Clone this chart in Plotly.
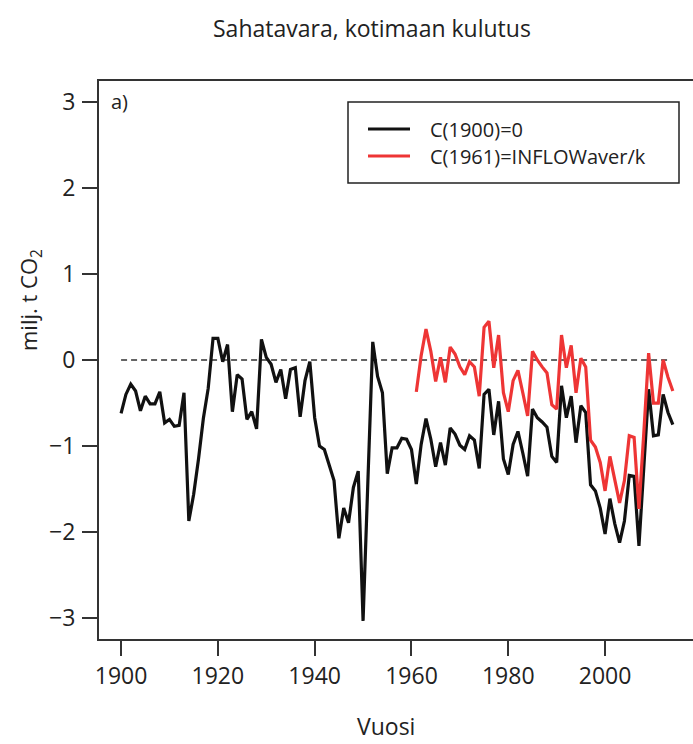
import plotly.graph_objects as go

# Sawn wood, domestic consumption: carbon balance (million t CO2)
years_black = list(range(1900, 2015))
c1900_zero = [
    -0.62, -0.40, -0.28, -0.36, -0.59, -0.42, -0.51, -0.51, -0.37, -0.73,   # 1900-1909
    -0.69, -0.77, -0.76, -0.38, -1.87, -1.56, -1.15, -0.68, -0.33, 0.25,    # 1910-1919
    0.25, -0.02, 0.18, -0.60, -0.17, -0.22, -0.69, -0.60, -0.80, 0.24,      # 1920-1929
    0.03, -0.05, -0.26, -0.11, -0.45, -0.11, -0.09, -0.66, -0.24, -0.02,    # 1930-1939
    -0.67, -1.00, -1.04, -1.21, -1.40, -2.07, -1.72, -1.89, -1.48, -1.29,   # 1940-1949
    -3.03, -1.40, 0.21, -0.19, -0.38, -1.32, -1.02, -1.02, -0.91, -0.92,    # 1950-1959
    -1.04, -1.44, -0.98, -0.68, -0.92, -1.24, -0.96, -1.22, -0.79, -0.86,   # 1960-1969
    -0.99, -1.04, -0.88, -0.93, -1.26, -0.40, -0.34, -0.87, -0.48, -1.15,   # 1970-1979
    -1.33, -0.98, -0.83, -1.08, -1.35, -0.57, -0.67, -0.72, -0.78, -1.12,   # 1980-1989
    -1.19, -0.30, -0.67, -0.42, -0.96, -0.53, -0.61, -1.45, -1.52, -1.72,   # 1990-1999
    -2.02, -1.61, -1.90, -2.12, -1.87, -1.34, -1.35, -2.16, -1.20, -0.34,   # 2000-2009
    -0.88, -0.87, -0.40, -0.61, -0.75,                                      # 2010-2014
]

years_red = list(range(1961, 2015))
c1961_inflow = [
    -0.37, 0.05, 0.36, 0.10, -0.25, 0.03, -0.26, 0.15, 0.07,                # 1961-1969
    -0.08, -0.17, -0.02, -0.08, -0.42, 0.38, 0.45, -0.09, 0.29, -0.38,      # 1970-1979
    -0.60, -0.24, -0.12, -0.38, -0.65, 0.10, 0.00, -0.08, -0.15, -0.52,     # 1980-1989
    -0.57, 0.29, -0.09, 0.17, -0.38, 0.02, -0.08, -0.93, -1.01, -1.19,      # 1990-1999
    -1.52, -1.12, -1.40, -1.66, -1.40, -0.88, -0.90, -1.73, -0.85, 0.08,    # 2000-2009
    -0.50, -0.50, 0.00, -0.20, -0.36,                                       # 2010-2014
]

ref_years = [1900, 2013]
ref_values = [0, 0]

x_ticks = [1900, 1920, 1940, 1960, 1980, 2000]
y_ticks = [-3, -2, -1, 0, 1, 2, 3]
y_tick_text = ["\u22123", "\u22122", "\u22121", "0", "1", "2", "3"]
legend_labels = ["C(1900)=0", "C(1961)=INFLOWaver/k"]

BLACK = "#111111"
RED = "#EE3535"
TEXT = "#222222"
FONT = "Open Sans"

W, H = 693, 744
L, R, T, B = 99, 0, 81, 105


def px(x):
    return (x - L) / (W - L - R)


def py(y):
    return (H - B - y) / (H - T - B)


fig = go.Figure()
fig.add_trace(go.Scatter(x=ref_years, y=ref_values, mode="lines",
                         line=dict(color="#333333", width=1.6, dash="6px,4px"),
                         showlegend=False, hoverinfo="skip"))
fig.add_trace(go.Scatter(x=years_black, y=c1900_zero, mode="lines",
                         line=dict(color=BLACK, width=3.2), name=legend_labels[0],
                         showlegend=False))
fig.add_trace(go.Scatter(x=years_red, y=c1961_inflow, mode="lines",
                         line=dict(color=RED, width=3.2), name=legend_labels[1],
                         showlegend=False))

# Legend box drawn in paper coordinates
shapes = [
    dict(type="rect", xref="paper", yref="paper",
         x0=px(348), x1=px(679), y0=py(183), y1=py(102),
         line=dict(color="#222222", width=1.5), fillcolor="white"),
    dict(type="line", xref="paper", yref="paper",
         x0=px(368), x1=px(410), y0=py(129), y1=py(129),
         line=dict(color=BLACK, width=3)),
    dict(type="line", xref="paper", yref="paper",
         x0=px(368), x1=px(410), y0=py(156), y1=py(156),
         line=dict(color=RED, width=3)),
]

annotations = [
    dict(text=legend_labels[0], xref="paper", yref="paper", x=px(428), y=py(129),
         xanchor="left", yanchor="middle", showarrow=False,
         font=dict(family=FONT, size=20, color=TEXT)),
    dict(text=legend_labels[1], xref="paper", yref="paper", x=px(428), y=py(156),
         xanchor="left", yanchor="middle", showarrow=False,
         font=dict(family=FONT, size=20, color=TEXT)),
    dict(text="a)", xref="paper", yref="paper", x=px(109), y=py(102),
         xanchor="left", yanchor="middle", showarrow=False,
         font=dict(family=FONT, size=20, color=TEXT)),
    dict(text="Sahatavara, kotimaan kulutus", xref="paper", yref="paper",
         x=px(372), y=py(28), xanchor="center", yanchor="middle", showarrow=False,
         font=dict(family=FONT, size=23, color=TEXT)),
    dict(text="Vuosi", xref="paper", yref="paper",
         x=px(386), y=py(726), xanchor="center", yanchor="middle", showarrow=False,
         font=dict(family=FONT, size=23, color=TEXT)),
    dict(text="milj. t CO<sub>2</sub>", xref="paper", yref="paper",
         x=px(30), y=py(300), xanchor="center", yanchor="middle", showarrow=False,
         textangle=-90, font=dict(family=FONT, size=22, color=TEXT)),
]

fig.update_layout(
    width=W, height=H,
    margin=dict(l=L, r=R, t=T, b=B, pad=0),
    paper_bgcolor="white", plot_bgcolor="white",
    shapes=shapes, annotations=annotations,
    showlegend=False,
    xaxis=dict(range=[1895.44, 1895.44 + (W - L - R) / 4.84],
               tickvals=x_ticks, ticks="outside", ticklen=15, tickwidth=1.5,
               tickcolor="#333333", showline=True, linecolor="#333333",
               linewidth=2, mirror=True, showgrid=False, zeroline=False,
               tickfont=dict(family=FONT, size=23, color=TEXT)),
    yaxis=dict(range=[-3.24, 3.24],
               tickvals=y_ticks, ticktext=y_tick_text,
               ticks="outside", ticklen=15, tickwidth=1.5,
               tickcolor="#333333", showline=True, linecolor="#333333",
               linewidth=2, mirror=False, showgrid=False, zeroline=False,
               ticklabelstandoff=2,
               tickfont=dict(family=FONT, size=23, color=TEXT)),
)

fig.write_html("out.html")
